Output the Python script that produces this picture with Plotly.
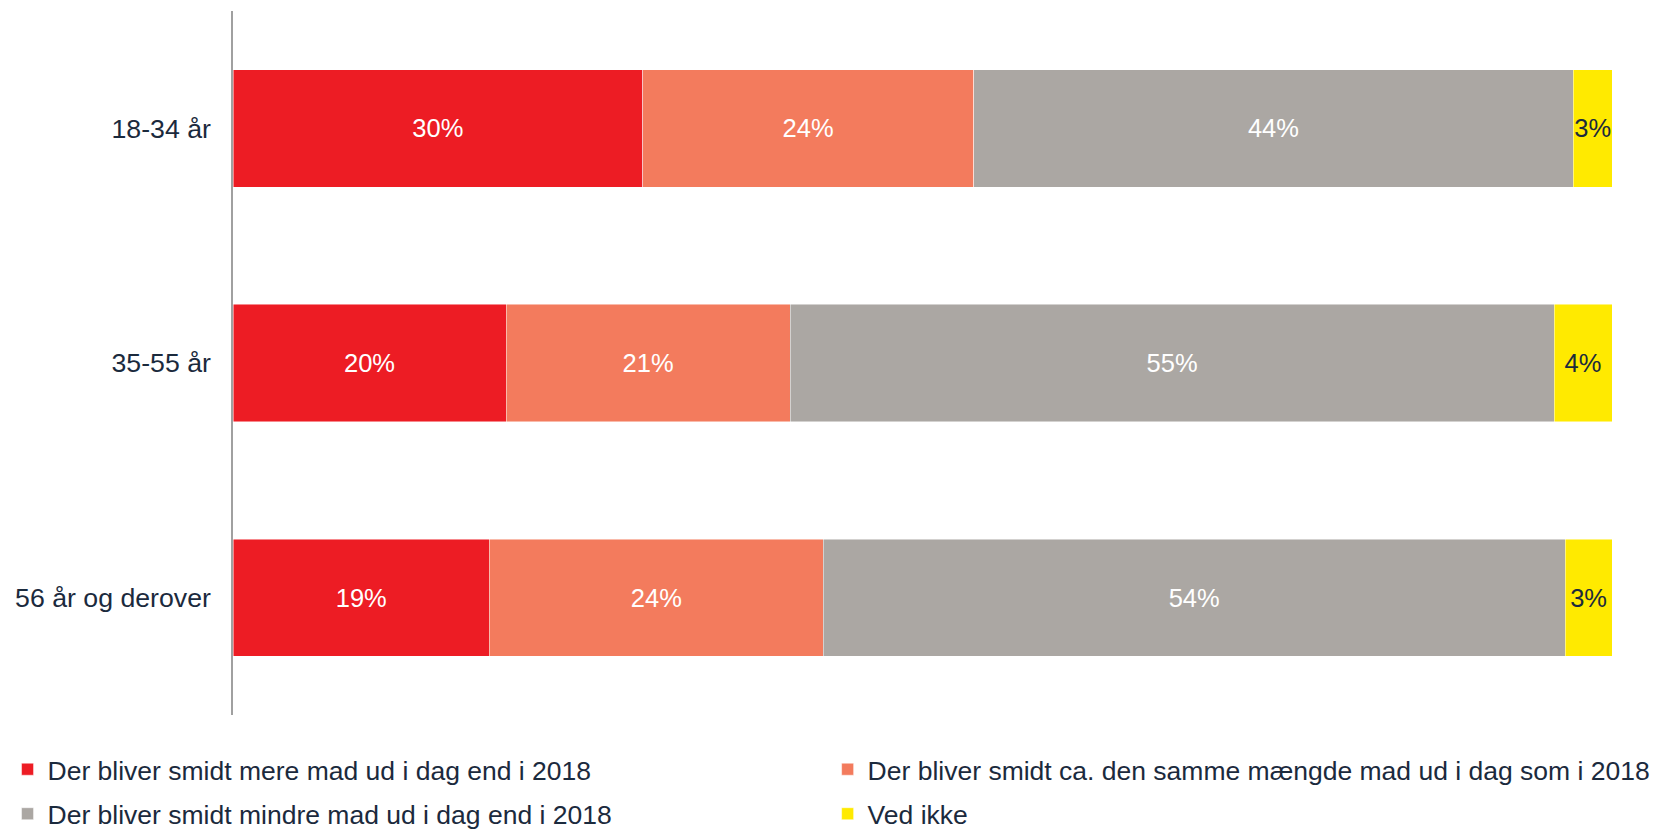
import plotly.graph_objects as go

categories = ["18-34 år", "35-55 år", "56 år og derover"]
series_names = [
    "Der bliver smidt mere mad ud i dag end i 2018",
    "Der bliver smidt ca. den samme mængde mad ud i dag som i 2018",
    "Der bliver smidt mindre mad ud i dag end i 2018",
    "Ved ikke",
]
mere = [29.7, 19.8, 18.6]
samme = [24.0, 20.6, 24.2]
mindre = [43.5, 55.4, 53.8]
ved_ikke = [2.8, 4.2, 3.4]

values = [mere, samme, mindre, ved_ikke]
colors = ["#ED1C24", "#F37B5D", "#ABA7A3", "#FFEA00"]
text_colors = ["white", "white", "white", "#1B2A3D"]
legend_ids = ["legend", "legend2", "legend3", "legend4"]

DARK = "#1B2A3D"
FONT = "Liberation Sans, Arial, sans-serif"

fig = go.Figure()
for name, vals, col, tcol, lg in zip(series_names, values, colors, text_colors, legend_ids):
    fig.add_trace(go.Bar(
        y=categories, x=vals, name=name, orientation="h",
        marker=dict(color=col, line=dict(color="rgba(255,255,255,0.6)", width=0.8)),
        texttemplate="%{x:.0f}%", textposition="inside", insidetextanchor="middle",
        textangle=0,
        textfont=dict(color=tcol, size=25.5, family=FONT),
        constraintext="none", legend=lg, hoverinfo="skip",
    ))

# legend placement (paper coords relative to plot area)
col_x = [-0.1635, 0.4312]
row_y = [-0.0774, -0.1406]
legend_pos = [(col_x[0], row_y[0]), (col_x[1], row_y[0]), (col_x[0], row_y[1]), (col_x[1], row_y[1])]

layout_legends = {}
for lg, (lx, ly) in zip(legend_ids, legend_pos):
    layout_legends[lg] = dict(
        x=lx, xanchor="left", y=ly, yanchor="middle",
        font=dict(size=26.5, color=DARK, family=FONT),
        bgcolor="rgba(0,0,0,0)", borderwidth=0,
    )

fig.update_layout(
    width=1655, height=831,
    barmode="stack", bargap=0.5,
    margin=dict(l=233, r=43, t=11, b=116, autoexpand=False),
    plot_bgcolor="white", paper_bgcolor="white",
    font=dict(family=FONT, color=DARK, size=26),
    xaxis=dict(range=[0, 100], visible=False, fixedrange=True),
    yaxis=dict(
        categoryorder="array", categoryarray=categories,
        range=[2.5, -0.5], showgrid=False, zeroline=False,
        showline=True, linecolor="#A0A0A0", linewidth=1.5,
        ticks="", ticklabelstandoff=15,
        tickfont=dict(size=26.7, color=DARK, family=FONT),
    ),
    showlegend=True,
    **layout_legends,
)

fig.write_html("out.html")
